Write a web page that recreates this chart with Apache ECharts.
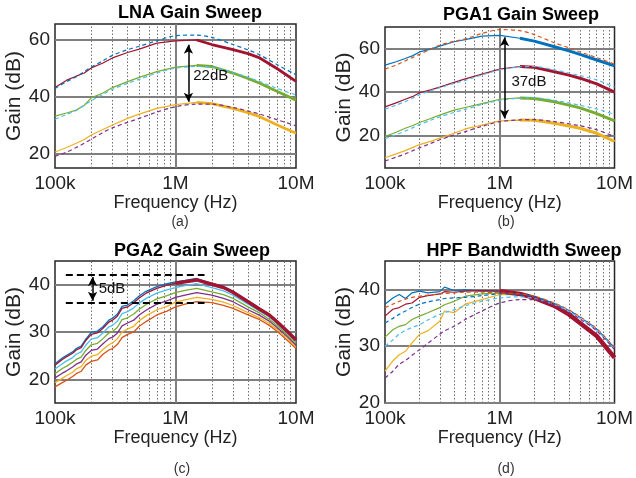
<!DOCTYPE html>
<html><head><meta charset="utf-8">
<script src="https://cdn.jsdelivr.net/npm/echarts@6/dist/echarts.min.js"></script>
<style>html,body{margin:0;padding:0;background:#fff}#c{width:636px;height:478px}</style>
</head><body><div id="c"></div>
<script>
const COL = {blue:'#0072BD', orange:'#D95319', yellow:'#EDB120', purple:'#7E2F8E', green:'#77AC30', cyan:'#4DBEEE', red:'#A2142F'};

// ---- shared ----
const minorX = [2e5,3e5,4e5,5e5,6e5,7e5,8e5,9e5,2e6,3e6,4e6,5e6,6e6,7e6,8e6,9e6];
const majorX = [1e6];
const xTickLabels = {5:'100k', 6:'1M', 7:'10M'};

// ---- (a) LNA Gain Sweep ----
const freqAB = [1e5,1.25e5,1.5e5,1.75e5,2e5,2.5e5,3e5,4e5,5e5,7e5,1e6,1.5e6,2e6,3e6,4e6,5e6,7e6,1e7];
const lnaMeasHi  = [43.2,45.8,47.2,48.3,50.1,51.8,53.6,55.5,56.7,58.8,59.6,59.9,58.3,56.5,55.1,53.6,49.8,45.4];
const lnaSimHi   = [42.9,45.3,47.0,48.8,50.4,52.6,54.5,56.5,57.7,59.6,61.4,61.6,60.8,58.3,56.4,54.7,51.2,47.7];
const lnaMeasMid = [33.2,34.3,35.3,37.0,39.6,41.3,43.2,45.3,46.8,48.8,50.4,51.0,50.6,48.3,46.4,44.7,41.8,38.8];
const lnaSimMid  = [32.1,33.8,35.2,37.0,38.6,40.8,42.6,44.7,46.1,48.3,50.0,50.6,50.4,48.5,46.8,45.3,42.9,40.6];
const lnaMeasLo  = [20.6,22.2,23.7,25.0,26.6,28.5,30.1,32.4,33.9,35.9,37.2,38.0,37.6,35.9,34.4,33.0,30.1,27.2];
const lnaSimLo   = [19.1,20.6,22.2,23.7,25.1,27.5,29.1,31.0,32.4,34.6,36.5,37.4,37.4,36.2,35.0,33.9,31.9,29.8];
const lnaYTicks = [20,40,60];
const lnaArrow = [1.28e6, 58.2, 38.2];
const lnaLabel = [1.39e6, 47.2, '22dB'];

// ---- (b) PGA1 Gain Sweep ----
const pga1Meas1 = [52.4,54.0,55.5,56.8,58.5,59.8,61.2,63.2,64.2,65.8,66.1,64.8,63.5,60.9,59.0,57.4,54.8,52.1];
const pga1Sim1  = [50.6,52.5,54.4,56.0,57.4,59.8,61.6,63.4,64.5,67.0,68.8,68.3,66.5,62.7,60.4,58.5,55.9,52.9];
const pga1Meas2 = [33.2,35.0,36.7,38.0,39.7,41.0,42.3,44.5,46.1,48.3,50.6,51.8,51.4,49.4,47.8,46.4,43.8,40.0];
const pga1Sim2  = [32.1,34.0,35.6,37.3,38.8,40.6,42.0,44.0,45.4,47.9,50.2,51.6,51.8,50.2,48.8,47.6,45.6,42.3];
const pga1Meas3 = [19.5,21.5,23.3,24.6,26.0,27.8,29.4,31.7,32.9,34.7,36.7,37.3,37.0,35.5,34.0,32.7,30.1,26.7];
const pga1Sim3  = [18.5,20.3,22.0,23.6,25.0,27.0,28.6,30.6,32.0,34.3,36.2,37.2,37.4,36.2,35.0,33.9,32.2,29.7];
const pga1Meas4 = [9.7,11.5,13.0,14.5,15.8,17.3,18.8,21.0,23.0,24.8,26.7,27.1,27.0,25.6,24.4,23.3,21.0,17.3];
const pga1Sim4  = [8.2,10.0,11.5,13.0,14.3,16.3,18.0,20.2,21.8,24.2,26.4,27.2,27.3,26.4,25.4,24.5,22.6,19.5];
const pga1YTicks = [20,40,60];
const pga1Arrow = [1.1e6, 65.3, 27.8];
const pga1Label = [1.25e6, 44.8, '37dB'];

// ---- (c) PGA2 Gain Sweep ----
const freqC = [1e5,1.15e5,1.25e5,1.4e5,1.5e5,1.65e5,1.8e5,2e5,2.25e5,2.5e5,2.8e5,3e5,3.3e5,3.6e5,4e5,4.5e5,5e5,5.7e5,7e5,8.5e5,1e6,1.2e6,1.5e6,2e6,2.5e6,3e6,4e6,5e6,6e6,7e6,8.5e6,1e7];
const pga2Blue   = [23.3,24.5,25.1,25.8,26.5,27.0,28.5,29.9,30.2,31.1,32.5,32.9,33.8,35.4,35.7,36.6,37.6,38.6,39.6,40.2,40.6,40.9,41.3,40.3,39.6,38.6,36.6,35.0,33.7,32.2,30.2,28.4];
const pga2Orange = [18.4,19.3,19.8,20.6,21.2,21.7,23.0,23.8,24.1,25.3,26.2,26.5,27.4,28.8,29.5,30.0,31.2,32.2,33.6,34.4,35.3,35.9,36.4,36.2,35.6,35.0,33.6,32.6,31.4,30.1,28.2,26.5];
const pga2Yellow = [19.3,20.2,20.8,21.5,22.2,22.7,24.0,24.9,25.2,26.3,27.3,27.7,28.6,30.0,30.6,31.2,32.4,33.4,34.7,35.4,36.3,36.8,37.3,36.9,36.3,35.6,34.1,33.0,31.8,30.5,28.6,26.8];
const pga2Purple = [20.3,21.3,21.8,22.6,23.2,23.7,25.1,26.1,26.4,27.5,28.6,28.9,29.8,31.3,31.9,32.5,33.6,34.6,35.9,36.6,37.3,37.8,38.3,37.8,37.1,36.4,34.7,33.5,32.3,30.9,29.0,27.2];
const pga2Green  = [21.2,22.3,22.8,23.6,24.2,24.7,26.1,27.3,27.6,28.6,29.8,30.1,31.0,32.6,33.0,33.8,34.8,35.8,37.0,37.7,38.3,38.8,39.2,38.5,37.9,37.1,35.3,34.0,32.7,31.3,29.3,27.6];
const pga2Cyan   = [22.2,23.3,23.9,24.6,25.3,25.8,27.2,28.5,28.8,29.8,31.1,31.4,32.3,33.9,34.3,35.1,36.1,37.1,38.2,38.9,39.4,39.8,40.2,39.4,38.7,37.8,35.9,34.4,33.2,31.7,29.7,28.0];
const pga2Red    = [23.0,24.2,24.8,25.5,26.2,26.7,28.2,29.5,29.8,30.8,32.1,32.5,33.4,35.0,35.3,36.2,37.2,38.2,39.2,39.9,40.3,40.6,41.0,40.1,39.4,38.4,36.4,34.8,33.6,32.1,30.1,28.3];
const pga2YTicks = [20,30,40];
const pga2Dash = [1.23e5, 1.74e6, 42.0, 36.2];
const pga2Arrow = [2.05e5, 41.6, 36.6];
const pga2Label = [2.28e5, 39.1, '5dB'];

// ---- (d) HPF Bandwidth Sweep ----
const freqD = [1e5,1.17e5,1.33e5,1.51e5,1.72e5,2e5,2.36e5,3e5,3.3e5,4e5,5e5,7e5,1e6,1.5e6,2e6,3e6,4e6,5e6,7e6,1e7];
const hpfMeasBlue   = [37.4,38.5,39.1,38.4,39.4,39.7,39.4,39.6,40.4,39.8,39.9,39.7,39.7,39.3,38.6,37.2,35.7,34.2,31.9,28.1];
const hpfMeasRed    = [35.3,36.5,36.8,37.4,37.6,38.6,38.9,39.2,39.6,39.5,39.7,39.8,39.7,39.2,38.5,37.1,35.6,34.1,31.8,28.0];
const hpfMeasGreen  = [31.6,32.9,33.5,33.8,34.7,35.3,35.9,36.8,37.3,37.9,38.8,39.2,39.4,39.1,38.4,37.0,35.5,34.0,31.7,27.9];
const hpfMeasYellow = [25.6,27.4,28.5,29.1,30.6,32.1,32.7,34.4,36.2,35.9,37.4,38.2,39.1,39.0,38.4,37.0,35.5,34.0,31.7,27.9];
const hpfSimOrange  = [36.8,37.4,37.9,38.3,38.6,38.8,39.0,39.2,39.3,39.4,39.5,39.5,39.4,39.2,38.8,37.6,36.4,35.2,33.1,29.8];
const hpfSimBlue    = [34.1,34.9,35.6,36.2,36.8,37.4,37.8,38.2,38.4,38.5,38.6,38.9,39.2,39.1,38.7,37.5,36.3,35.1,33.0,29.7];
const hpfSimCyan    = [30.0,31.1,32.1,32.8,33.3,33.8,34.6,35.6,35.9,36.4,37.1,37.9,38.5,38.7,38.4,37.3,36.1,34.9,32.8,29.5];
const hpfSimPurple  = [24.4,25.6,26.8,27.5,28.4,29.4,30.5,32.1,32.7,33.5,34.7,36.2,37.6,38.2,38.2,37.2,36.0,34.8,32.7,29.4];
const hpfYTicks = [20,30,40];

const FONT = 'Liberation Sans, Arial, sans-serif';

const grids = [
  {left:55, top:24, width:241, height:144},
  {left:385, top:27, width:240, height:141},
  {left:55, top:261, width:241, height:142},
  {left:385, top:261, width:240, height:142}
];
const yRanges = [[15,65.5,lnaYTicks],[5,70,pga1YTicks],[15,45,pga2YTicks],[20,45,hpfYTicks]];
const xNameGaps = [21, 21, 24, 24];

function pairs(freq, vals){ return freq.map((f,i)=>[f, vals[i]]); }
function meas(idx, freq, vals, color, w){
  return {type:'line', xAxisIndex:idx, yAxisIndex:idx, data:pairs(freq, vals), symbol:'none', showSymbol:false,
    lineStyle:{color, width:w||1.2}, z:2, silent:true, animation:false};
}
function thick(idx, freq, vals, color, from, w){
  return {type:'line', xAxisIndex:idx, yAxisIndex:idx, data:pairs(freq, vals).filter(p=>p[0]>=from), symbol:'none', showSymbol:false,
    lineStyle:{color, width:w}, z:2, silent:true, animation:false};
}
function sim(idx, freq, vals, color){
  return {type:'line', xAxisIndex:idx, yAxisIndex:idx, data:pairs(freq, vals), symbol:'none', showSymbol:false, smooth:0.3,
    lineStyle:{color, width:1.2, type:[4,3]}, z:3, silent:true, animation:false};
}
function gridLines(idx, yMajor){
  return {type:'line', xAxisIndex:idx, yAxisIndex:idx, data:[], silent:true, animation:false, z:1,
    markLine:{silent:true, symbol:'none', z:1, animation:false, label:{show:false},
      data:[
        ...minorX.map(v=>({xAxis:v, lineStyle:{type:[1.5,2], color:'#6e6e6e', width:1}})),
        ...majorX.map(v=>({xAxis:v, lineStyle:{type:'solid', color:'#7f7f7f', width:2}})),
        ...yMajor.map(v=>({yAxis:v, lineStyle:{type:'solid', color:'#7f7f7f', width:2}}))
      ]}};
}
function annot(idx, arrow, label, dash){
  const lines = [[{coord:[arrow[0], arrow[1]], symbol:'arrow'},{coord:[arrow[0], arrow[2]], symbol:'arrow'}]];
  if (dash) {
    lines.push([{coord:[dash[0], dash[2]], symbol:'none', lineStyle:{type:[7,4], width:2}},{coord:[dash[1], dash[2]], symbol:'none'}]);
    lines.push([{coord:[dash[0], dash[3]], symbol:'none', lineStyle:{type:[7,4], width:2}},{coord:[dash[1], dash[3]], symbol:'none'}]);
  }
  return {type:'line', xAxisIndex:idx, yAxisIndex:idx, data:[], silent:true, animation:false, z:10,
    markLine:{silent:true, z:10, animation:false, symbol:['arrow','arrow'], symbolSize:[7,9], label:{show:false},
      lineStyle:{color:'#000', width:1.5, type:'solid'}, data:lines},
    markPoint:{silent:true, z:10, animation:false, symbol:'rect', symbolSize:1, itemStyle:{color:'rgba(0,0,0,0)'},
      label:{show:true, position:'right', distance:0, color:'#111', fontSize:15, fontFamily:FONT, formatter:label[2]},
      data:[{coord:[label[0], label[1]], value:label[2]}]}};
}

const series = [
  gridLines(0, lnaYTicks), gridLines(1, pga1YTicks), gridLines(2, pga2YTicks), gridLines(3, hpfYTicks),
  // (a)
  meas(0, freqAB, lnaMeasHi, COL.red), thick(0, freqAB, lnaMeasHi, COL.red, 1.5e6, 2.8),
  meas(0, freqAB, lnaMeasMid, COL.green), thick(0, freqAB, lnaMeasMid, COL.green, 1.5e6, 2.8),
  meas(0, freqAB, lnaMeasLo, COL.yellow), thick(0, freqAB, lnaMeasLo, COL.yellow, 1.5e6, 2.8),
  sim(0, freqAB, lnaSimHi, COL.blue), sim(0, freqAB, lnaSimMid, COL.cyan), sim(0, freqAB, lnaSimLo, COL.purple),
  annot(0, lnaArrow, lnaLabel),
  // (b)
  meas(1, freqAB, pga1Meas1, COL.blue), thick(1, freqAB, pga1Meas1, COL.blue, 1.5e6, 3),
  meas(1, freqAB, pga1Meas2, COL.red), thick(1, freqAB, pga1Meas2, COL.red, 1.5e6, 3),
  meas(1, freqAB, pga1Meas3, COL.green), thick(1, freqAB, pga1Meas3, COL.green, 1.5e6, 3),
  meas(1, freqAB, pga1Meas4, COL.yellow), thick(1, freqAB, pga1Meas4, COL.yellow, 1.5e6, 3),
  sim(1, freqAB, pga1Sim1, COL.orange), sim(1, freqAB, pga1Sim2, COL.cyan), sim(1, freqAB, pga1Sim3, COL.cyan), sim(1, freqAB, pga1Sim4, COL.purple),
  annot(1, pga1Arrow, pga1Label),
  // (c)
  meas(2, freqC, pga2Blue, COL.blue, 1.3), meas(2, freqC, pga2Orange, COL.orange, 1.3), meas(2, freqC, pga2Yellow, COL.yellow, 1.3),
  meas(2, freqC, pga2Purple, COL.purple, 1.3), meas(2, freqC, pga2Green, COL.green, 1.3), meas(2, freqC, pga2Cyan, COL.cyan, 1.3),
  meas(2, freqC, pga2Red, COL.red, 1.3), thick(2, freqC, pga2Red, COL.red, 1e6, 3.5),
  annot(2, pga2Arrow, pga2Label, pga2Dash),
  // (d)
  meas(3, freqD, hpfMeasBlue, COL.blue), meas(3, freqD, hpfMeasGreen, COL.green), meas(3, freqD, hpfMeasYellow, COL.yellow),
  sim(3, freqD, hpfSimOrange, COL.orange), sim(3, freqD, hpfSimBlue, COL.blue), sim(3, freqD, hpfSimCyan, COL.cyan), sim(3, freqD, hpfSimPurple, COL.purple),
  meas(3, freqD, hpfMeasRed, COL.red), thick(3, freqD, hpfMeasRed, COL.red, 1e6, 4.5)
];

const labelStyle = {color:'#222', fontSize:19, fontFamily:FONT};
const option = {
  backgroundColor:'#fff',
  animation:false,
  grid: grids.map(g=>Object.assign({show:true, borderColor:'#262626', borderWidth:1.5, backgroundColor:'#fff'}, g)),
  xAxis: grids.map((g,i)=>({gridIndex:i, type:'log', logBase:10, min:1e5, max:1e7,
    name:'Frequency (Hz)', nameLocation:'middle', nameGap:xNameGaps[i], nameTextStyle:{color:'#222', fontSize:18, fontFamily:FONT},
    axisLine:{show:false}, axisTick:{show:false}, splitLine:{show:false}, minorTick:{show:false},
    axisLabel:Object.assign({margin:6, formatter:v=>xTickLabels[Math.round(Math.log10(v))]||''}, labelStyle)})),
  yAxis: grids.map((g,i)=>({gridIndex:i, type:'value', min:yRanges[i][0], max:yRanges[i][1], interval:5,
    name:'Gain (dB)', nameLocation:'middle', nameGap:29, nameTextStyle:{color:'#222', fontSize:21, fontFamily:FONT},
    axisLine:{show:false}, axisTick:{show:false}, splitLine:{show:false},
    axisLabel:Object.assign({margin:5, formatter:v=>yRanges[i][2].indexOf(v)>=0?String(v):''}, labelStyle)})),
  graphic:[
    {type:'text', x:190, y:13, style:{text:'LNA Gain Sweep', font:'bold 18px '+FONT, fill:'#000', textAlign:'center', textVerticalAlign:'middle'}},
    {type:'text', x:521, y:15, style:{text:'PGA1 Gain Sweep', font:'bold 18px '+FONT, fill:'#000', textAlign:'center', textVerticalAlign:'middle'}},
    {type:'text', x:192, y:251, style:{text:'PGA2 Gain Sweep', font:'bold 18px '+FONT, fill:'#000', textAlign:'center', textVerticalAlign:'middle'}},
    {type:'text', x:524, y:251, style:{text:'HPF Bandwidth Sweep', font:'bold 18px '+FONT, fill:'#000', textAlign:'center', textVerticalAlign:'middle'}},
    {type:'text', x:180, y:222, style:{text:'(a)', font:'14px '+FONT, fill:'#333', textAlign:'center', textVerticalAlign:'middle'}},
    {type:'text', x:506, y:222, style:{text:'(b)', font:'14px '+FONT, fill:'#333', textAlign:'center', textVerticalAlign:'middle'}},
    {type:'text', x:182, y:469, style:{text:'(c)', font:'14px '+FONT, fill:'#333', textAlign:'center', textVerticalAlign:'middle'}},
    {type:'text', x:506, y:469, style:{text:'(d)', font:'14px '+FONT, fill:'#333', textAlign:'center', textVerticalAlign:'middle'}}
  ],
  series
};
const chart = echarts.init(document.getElementById('c'), null, {renderer:'canvas'});
chart.setOption(option);
</script>
</body></html>
